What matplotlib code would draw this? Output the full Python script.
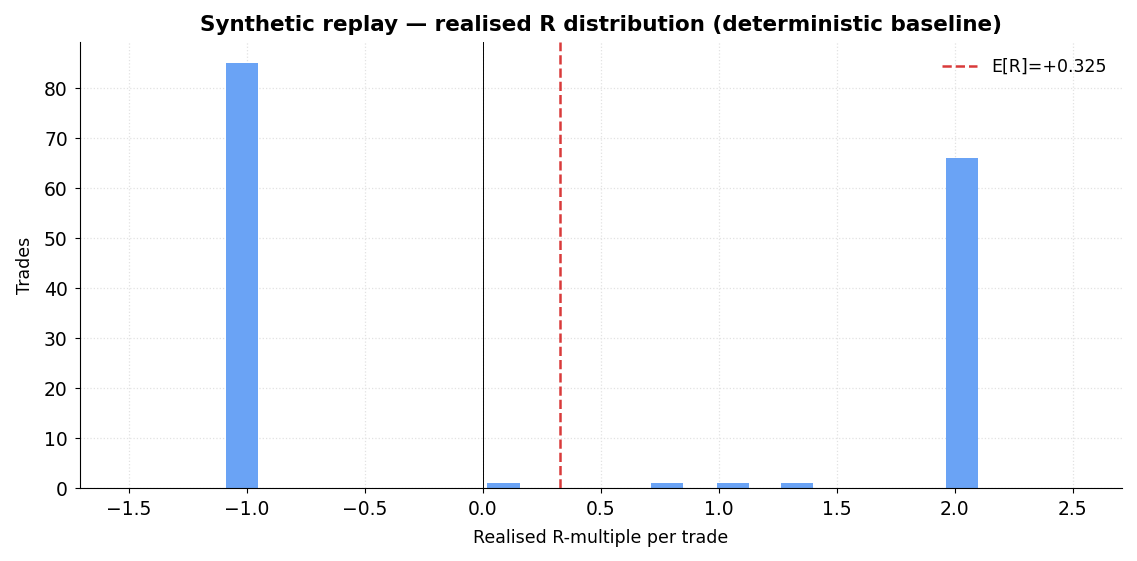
import numpy as np
import matplotlib
matplotlib.use('Agg')
import matplotlib.pyplot as plt

# histogram bins
bin_centers = [-1.02, 0.087, 0.78, 1.06, 1.33, 2.03]
counts = [85, 1, 1, 1, 1, 66]
bin_width = 0.136
mean_r = 0.325

fig, ax = plt.subplots(figsize=(11.37, 5.61), dpi=100)
ax.bar(bin_centers, counts, width=bin_width, color='#6aa3f5', zorder=2)
ax.axvline(0, color='black', linewidth=0.7, zorder=3)
ax.axvline(mean_r, color='#d93a3a', linestyle='--', linewidth=1.8,
           label=f'E[R]={mean_r:+.3f}', zorder=4)

ax.set_xlim(-1.71, 2.71)
ax.set_ylim(0, 89.2)
ax.set_xticks(np.arange(-1.5, 2.51, 0.5))
ax.grid(True, linestyle=':', color='#e2e2e2', linewidth=0.9, zorder=0)
ax.spines['top'].set_visible(False)
ax.spines['right'].set_visible(False)
ax.tick_params(labelsize=13.5, pad=5)

ax.set_title('Synthetic replay — realised R distribution (deterministic baseline)',
             fontsize=15.5, fontweight='bold', pad=8)
ax.set_xlabel('Realised R-multiple per trade', fontsize=12.5, labelpad=7)
ax.set_ylabel('Trades', fontsize=12.5, labelpad=7)
ax.legend(frameon=False, fontsize=12.5, loc='upper right')

plt.subplots_adjust(left=0.07, right=0.987, top=0.925, bottom=0.13)
plt.savefig('out.png')
